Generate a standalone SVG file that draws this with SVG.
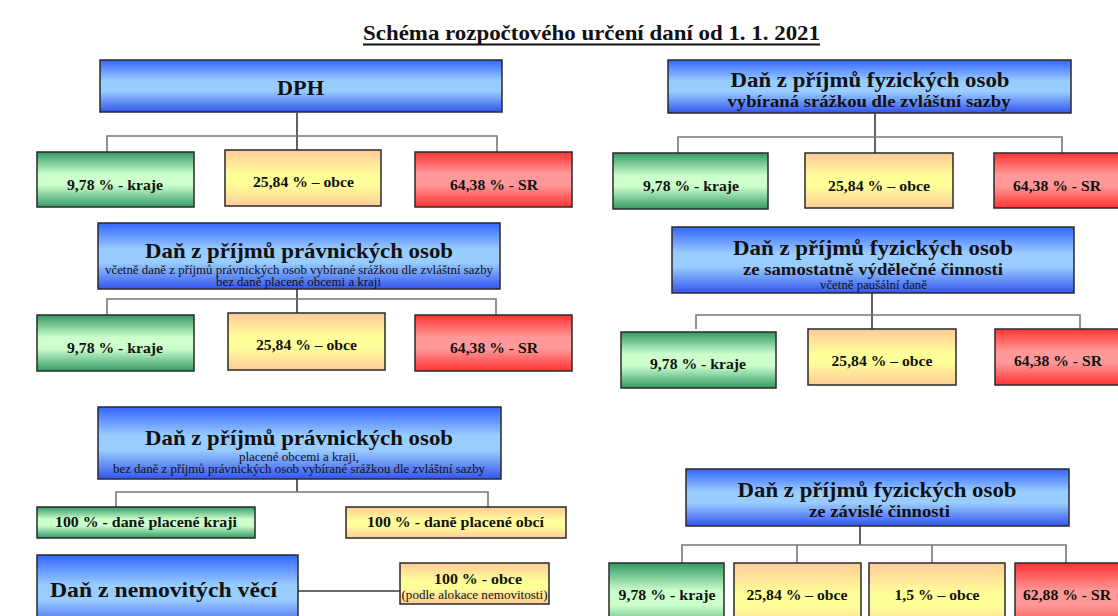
<svg xmlns="http://www.w3.org/2000/svg" width="1118" height="616" viewBox="0 0 1118 616">
  <style>
    text { font-family: "Liberation Serif", "Times New Roman", serif; fill: #111; text-anchor: middle; }
    .title { font-size: 21px; font-weight: bold; }
    .h1 { font-size: 22px; font-weight: bold; }
    .h2 { font-size: 21px; font-weight: bold; }
    .sub { font-size: 16px; font-weight: bold; }
    .note { font-size: 11.5px; }
    .leaf { font-size: 14.5px; font-weight: bold; }
    .box { stroke: #2a2a2a; stroke-width: 1.5; }
    .blue { fill: url(#gBlue); }
    .green { fill: url(#gGreen); }
    .orange { fill: url(#gOrange); }
    .red { fill: url(#gRed); }
    .conn path { fill: none; stroke-width: 1.6; }
    .conn .v { stroke: #3a3a3a; }
    .conn .h { stroke: #777; }
  </style>
  <defs>
    <linearGradient id="gBlue" x1="0" y1="0" x2="0" y2="1">
      <stop offset="0" stop-color="#3366ff"/>
      <stop offset="0.4" stop-color="#99ccff"/>
      <stop offset="0.6" stop-color="#99ccff"/>
      <stop offset="1" stop-color="#3355ee"/>
    </linearGradient>
    <linearGradient id="gGreen" x1="0" y1="0" x2="0" y2="1">
      <stop offset="0" stop-color="#339966"/>
      <stop offset="0.4" stop-color="#ccffcc"/>
      <stop offset="0.6" stop-color="#ccffcc"/>
      <stop offset="1" stop-color="#339966"/>
    </linearGradient>
    <linearGradient id="gOrange" x1="0" y1="0" x2="0" y2="1">
      <stop offset="0" stop-color="#ffcc99"/>
      <stop offset="0.45" stop-color="#ffff99"/>
      <stop offset="0.6" stop-color="#ffff99"/>
      <stop offset="1" stop-color="#ffcc99"/>
    </linearGradient>
    <linearGradient id="gRed" x1="0" y1="0" x2="0" y2="1">
      <stop offset="0" stop-color="#ff3333"/>
      <stop offset="0.4" stop-color="#ff9999"/>
      <stop offset="0.6" stop-color="#ff9999"/>
      <stop offset="1" stop-color="#ff3333"/>
    </linearGradient>
  </defs>

  <rect width="1118" height="616" fill="#ffffff"/>

  <!-- heading with a heavier underline -->
  <text class="title" x="591.5" y="40" textLength="457" lengthAdjust="spacingAndGlyphs">Schéma rozpočtového určení daní od 1. 1. 2021</text>
  <line x1="363" y1="44.5" x2="820" y2="44.5" stroke="#111" stroke-width="1.8"/>

  <!-- connectors: vertical trunks dark, horizontal bars and drops lighter -->
  <g class="conn" id="connectors">
    <!-- DPH -->
    <path class="v" d="M297 113 V151"/>
    <path class="h" d="M107 152 V136 H497 V152"/>
    <!-- DPFO srážkou -->
    <path class="v" d="M875 113 V153"/>
    <path class="h" d="M678 153 V137 H1062 V153"/>
    <!-- DPPO -->
    <path class="v" d="M297 289 V314"/>
    <path class="h" d="M107 315 V299 H496 V315"/>
    <!-- DPFO OSVČ -->
    <path class="v" d="M872 293 V329"/>
    <path class="h" d="M696 329 V315 H1080 V329"/>
    <!-- DPPO obce a kraje -->
    <path class="v" d="M297 479 V492"/>
    <path class="h" d="M116 507 V492 H488 V507"/>
    <!-- nemovitosti -->
    <path class="v" d="M298 591 H400"/>
    <!-- DPFO závislá činnost -->
    <path class="v" d="M860 526 V545"/>
    <path class="h" d="M682 563 V545 H1066 V563 M797 545 V563 M932 545 V563"/>
  </g>

  <!-- DPH -->
  <g id="dph">
    <rect class="box blue" x="100" y="60" width="402" height="52"/>
    <text class="h1" x="300.5" y="95" textLength="47" lengthAdjust="spacingAndGlyphs">DPH</text>
  </g>
  <g id="dph-kraje">
    <rect class="box green" x="37" y="152" width="157" height="55"/>
    <text class="leaf" x="115" y="190" textLength="96" lengthAdjust="spacingAndGlyphs">9,78 % - kraje</text>
  </g>
  <g id="dph-obce">
    <rect class="box orange" x="225" y="150" width="156" height="56"/>
    <text class="leaf" x="303.5" y="187" textLength="101" lengthAdjust="spacingAndGlyphs">25,84 % – obce</text>
  </g>
  <g id="dph-sr">
    <rect class="box red" x="415" y="152" width="157" height="55"/>
    <text class="leaf" x="494" y="190" textLength="88" lengthAdjust="spacingAndGlyphs">64,38 % - SR</text>
  </g>

  <!-- DPFO vybíraná srážkou -->
  <g id="dpfo-srazka">
    <rect class="box blue" x="668" y="60" width="403" height="53"/>
    <text class="h2" x="870" y="87" textLength="279" lengthAdjust="spacingAndGlyphs">Daň z příjmů fyzických osob</text>
    <text class="sub" x="869" y="107" textLength="283" lengthAdjust="spacingAndGlyphs">vybíraná srážkou dle zvláštní sazby</text>
  </g>
  <g id="dpfo-srazka-kraje">
    <rect class="box green" x="613" y="153" width="155" height="56"/>
    <text class="leaf" x="691" y="191" textLength="96" lengthAdjust="spacingAndGlyphs">9,78 % - kraje</text>
  </g>
  <g id="dpfo-srazka-obce">
    <rect class="box orange" x="805" y="153" width="148" height="55"/>
    <text class="leaf" x="879" y="191" textLength="102" lengthAdjust="spacingAndGlyphs">25,84 % – obce</text>
  </g>
  <g id="dpfo-srazka-sr">
    <rect class="box red" x="994" y="153" width="127" height="55"/>
    <text class="leaf" x="1057" y="191" textLength="88" lengthAdjust="spacingAndGlyphs">64,38 % - SR</text>
  </g>

  <!-- DPPO -->
  <g id="dppo">
    <rect class="box blue" x="98" y="223" width="402" height="66"/>
    <text class="h1" x="299" y="258" textLength="308" lengthAdjust="spacingAndGlyphs">Daň z příjmů právnických osob</text>
    <text class="note" x="299" y="273.5" textLength="388" lengthAdjust="spacingAndGlyphs">včetně daně z příjmů právnických osob vybírané srážkou dle zvláštní sazby</text>
    <text class="note" x="298.5" y="285.5" textLength="165" lengthAdjust="spacingAndGlyphs">bez daně placené obcemi a kraji</text>
  </g>
  <g id="dppo-kraje">
    <rect class="box green" x="37" y="315" width="157" height="56"/>
    <text class="leaf" x="115" y="353" textLength="96" lengthAdjust="spacingAndGlyphs">9,78 % - kraje</text>
  </g>
  <g id="dppo-obce">
    <rect class="box orange" x="228" y="313" width="157" height="57"/>
    <text class="leaf" x="306.5" y="350" textLength="101" lengthAdjust="spacingAndGlyphs">25,84 % – obce</text>
  </g>
  <g id="dppo-sr">
    <rect class="box red" x="415" y="315" width="157" height="56"/>
    <text class="leaf" x="494" y="353" textLength="88" lengthAdjust="spacingAndGlyphs">64,38 % - SR</text>
  </g>

  <!-- DPFO OSVČ -->
  <g id="dpfo-osvc">
    <rect class="box blue" x="672" y="227" width="402" height="66"/>
    <text class="h2" x="873" y="255" textLength="280" lengthAdjust="spacingAndGlyphs">Daň z příjmů fyzických osob</text>
    <text class="sub" x="873" y="275" textLength="260" lengthAdjust="spacingAndGlyphs">ze samostatně výdělečné činnosti</text>
    <text class="note" x="873.5" y="289" textLength="107" lengthAdjust="spacingAndGlyphs">včetně paušální daně</text>
  </g>
  <g id="dpfo-osvc-kraje">
    <rect class="box green" x="621" y="332" width="155" height="56"/>
    <text class="leaf" x="698" y="369" textLength="96" lengthAdjust="spacingAndGlyphs">9,78 % - kraje</text>
  </g>
  <g id="dpfo-osvc-obce">
    <rect class="box orange" x="808" y="329" width="148" height="56"/>
    <text class="leaf" x="882" y="366" textLength="101" lengthAdjust="spacingAndGlyphs">25,84 % – obce</text>
  </g>
  <g id="dpfo-osvc-sr">
    <rect class="box red" x="995" y="329" width="126" height="56"/>
    <text class="leaf" x="1058" y="366" textLength="88" lengthAdjust="spacingAndGlyphs">64,38 % - SR</text>
  </g>

  <!-- DPPO placené obcemi a kraji -->
  <g id="dppo-uzemni">
    <rect class="box blue" x="98" y="407" width="403" height="72"/>
    <text class="h1" x="299" y="445" textLength="308" lengthAdjust="spacingAndGlyphs">Daň z příjmů právnických osob</text>
    <text class="note" x="299" y="461" textLength="120" lengthAdjust="spacingAndGlyphs">placené obcemi a kraji,</text>
    <text class="note" x="299" y="473" textLength="372" lengthAdjust="spacingAndGlyphs">bez daně z příjmů právnických osob vybírané srážkou dle zvláštní sazby</text>
  </g>
  <g id="dppo-uzemni-kraje">
    <rect class="box green" x="37" y="507" width="218" height="31"/>
    <text class="leaf" x="146" y="527" textLength="182" lengthAdjust="spacingAndGlyphs">100 % - daně placené kraji</text>
  </g>
  <g id="dppo-uzemni-obce">
    <rect class="box orange" x="346" y="507" width="220" height="31"/>
    <text class="leaf" x="455.5" y="527" textLength="177" lengthAdjust="spacingAndGlyphs">100 % - daně placené obcí</text>
  </g>

  <!-- Daň z nemovitých věcí -->
  <g id="dnv">
    <rect class="box blue" x="37" y="555" width="261" height="75"/>
    <text class="h1" x="163.5" y="597" textLength="227" lengthAdjust="spacingAndGlyphs">Daň z nemovitých věcí</text>
  </g>
  <g id="dnv-obce">
    <rect class="box orange" x="400" y="563" width="149" height="41"/>
    <text class="leaf" x="478" y="584" textLength="88" lengthAdjust="spacingAndGlyphs">100 % - obce</text>
    <text class="note" x="474.5" y="599" textLength="146" lengthAdjust="spacingAndGlyphs">(podle alokace nemovitosti)</text>
  </g>

  <!-- DPFO závislá činnost -->
  <g id="dpfo-zc">
    <rect class="box blue" x="686" y="469" width="383" height="57"/>
    <text class="h2" x="877" y="497" textLength="279" lengthAdjust="spacingAndGlyphs">Daň z příjmů fyzických osob</text>
    <text class="sub" x="879.5" y="517" textLength="141" lengthAdjust="spacingAndGlyphs">ze závislé činnosti</text>
  </g>
  <g id="dpfo-zc-kraje">
    <rect class="box green" x="609" y="563" width="115" height="70"/>
    <text class="leaf" x="667" y="600" textLength="97" lengthAdjust="spacingAndGlyphs">9,78 % - kraje</text>
  </g>
  <g id="dpfo-zc-obce">
    <rect class="box orange" x="734" y="563" width="127" height="70"/>
    <text class="leaf" x="797" y="600" textLength="101" lengthAdjust="spacingAndGlyphs">25,84 % – obce</text>
  </g>
  <g id="dpfo-zc-obce-15">
    <rect class="box orange" x="869" y="563" width="136" height="70"/>
    <text class="leaf" x="937" y="600" textLength="85" lengthAdjust="spacingAndGlyphs">1,5 % – obce</text>
  </g>
  <g id="dpfo-zc-sr">
    <rect class="box red" x="1015" y="563" width="110" height="70"/>
    <text class="leaf" x="1067" y="600" textLength="88" lengthAdjust="spacingAndGlyphs">62,88 % - SR</text>
  </g>
</svg>
